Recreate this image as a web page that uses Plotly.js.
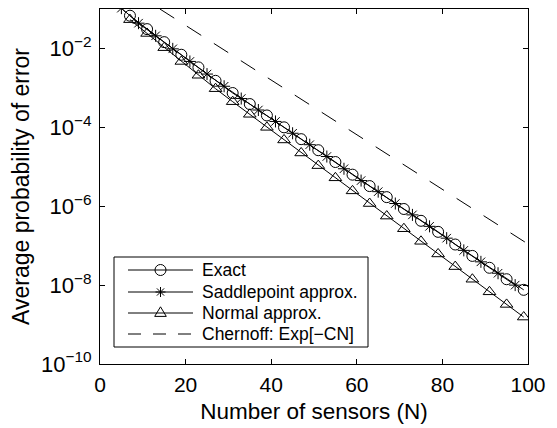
<!DOCTYPE html>
<html>
<head>
<meta charset="utf-8">
<script src="https://cdn.plot.ly/plotly-3.0.1.min.js"></script>
<style>html,body{margin:0;padding:0;background:#fff;}#chart{width:557px;height:428px;}</style>
</head>
<body>
<div id="chart"></div>
<script>
// Exact (circles)
var exactN = [7, 11, 15, 19, 23, 27, 31, 35, 39, 43, 47, 51, 55, 59, 63, 67, 71, 75, 79, 83, 87, 91, 95, 99];
var exactP = [0.0676, 0.0309, 0.01445, 0.00692, 0.00331, 0.00151, 7.41e-4, 3.89e-4, 2.00e-4, 1.00e-4, 5.01e-5, 2.63e-5,
              1.32e-5, 6.31e-6, 3.24e-6, 1.70e-6, 8.51e-7, 4.27e-7, 2.24e-7, 1.07e-7, 5.50e-8, 2.75e-8, 1.41e-8, 7.59e-9];
// Saddlepoint approx. (asterisks)
var saddleN = [5, 9, 13, 17, 21, 25, 29, 33, 37, 41, 45, 49, 53, 57, 61, 65, 69, 73, 77, 81, 85, 89, 93, 97];
var saddleP = [0.105, 0.0437, 0.0209, 0.00977, 0.00468, 0.00224, 1.10e-3, 5.37e-4, 2.75e-4, 1.41e-4, 7.08e-5, 3.63e-5,
               1.82e-5, 8.91e-6, 4.47e-6, 2.34e-6, 1.17e-6, 6.03e-7, 3.09e-7, 1.55e-7, 7.59e-8, 3.89e-8, 2.00e-8, 1.00e-8];
// Normal approx. (triangles)
var normalN = [7, 11, 15, 19, 23, 27, 31, 35, 39, 43, 47, 51, 55, 59, 63, 67, 71, 75, 79, 83, 87, 91, 95, 99];
var normalP = [0.0537, 0.0240, 0.01047, 0.00468, 0.00209, 9.55e-4, 4.47e-4, 2.14e-4, 1.00e-4, 4.79e-5, 2.24e-5, 1.07e-5,
               5.25e-6, 2.45e-6, 1.17e-6, 5.62e-7, 2.69e-7, 1.29e-7, 6.17e-8, 2.95e-8, 1.41e-8, 6.76e-9, 3.24e-9, 1.55e-9];
// Chernoff bound (dashed)
var chernoffN = [14, 100];
var chernoffP = [1.0e-1, 1.1e-7];

var seriesNames = ['Exact', 'Saddlepoint approx.', 'Normal approx.', 'Chernoff: Exp[\u2212CN]'];
var xTicks = [0, 20, 40, 60, 80, 100];
var yTicks = [1e-10, 1e-8, 1e-6, 1e-4, 1e-2];
var yTickText = ['10<sup>\u221210</sup>', '10<sup>\u22128</sup>', '10<sup>\u22126</sup>', '10<sup>\u22124</sup>', '10<sup>\u22122</sup>'];

var FONT = '"Liberation Sans", Arial, Helvetica, sans-serif';
var lineStyle = {color: '#000', width: 1};
var markerLine = {width: 1, color: '#000'};

var traces = [
  {x: exactN, y: exactP, name: seriesNames[0], mode: 'lines+markers', line: lineStyle,
   marker: {symbol: 'circle-open', size: 11, color: '#000', line: markerLine}},
  {x: saddleN, y: saddleP, name: seriesNames[1], mode: 'lines+markers', line: lineStyle,
   marker: {symbol: 'asterisk-open', size: 10, color: '#000', line: markerLine}},
  {x: normalN, y: normalP, name: seriesNames[2], mode: 'lines+markers', line: lineStyle,
   marker: {symbol: 'triangle-up-open', size: 11, color: '#000', line: markerLine}},
  {x: chernoffN, y: chernoffP, name: seriesNames[3], mode: 'lines',
   line: {color: '#000', width: 1, dash: '17px,15px'}}
];

// ---- hand-built legend (MATLAB style box) ----
var W = 557, H = 428, ML = 100, MR = 29, MT = 9, MB = 64;
var PW = W - ML - MR, PH = H - MT - MB;
function px2x(p) { return (p - ML) / PW; }
function py2y(p) { return (H - MB - p) / PH; }

var legBox = {left: 114, right: 368, top: 257, bottom: 347};
var legRows = [270, 292, 313, 334];
var legLineX = [128, 193], legMarkX = 160.5, legTextX = 200;

var shapes = [{
  type: 'rect', xref: 'paper', yref: 'paper', layer: 'above',
  x0: px2x(legBox.left), x1: px2x(legBox.right), y0: py2y(legBox.bottom), y1: py2y(legBox.top),
  line: {color: '#000', width: 1}, fillcolor: '#fff'
}];
var annotations = [];
var markerPaths = [
  null,
  'M0,-5V5M-5,0H5M-3.6,-3.6L3.6,3.6M-3.6,3.6L3.6,-3.6',
  'M-5.8,-3.4L5.8,-3.4L0,6.2Z',
  null
];
legRows.forEach(function (ry, i) {
  shapes.push({
    type: 'line', xref: 'paper', yref: 'paper', layer: 'above',
    x0: px2x(legLineX[0]), x1: px2x(legLineX[1]), y0: py2y(ry), y1: py2y(ry),
    line: {color: '#000', width: 1, dash: i === 3 ? '13px,12px' : 'solid'}
  });
  if (i === 0) {
    shapes.push({
      type: 'circle', xref: 'paper', yref: 'paper', layer: 'above',
      xsizemode: 'pixel', ysizemode: 'pixel', xanchor: px2x(legMarkX), yanchor: py2y(ry),
      x0: -5.5, x1: 5.5, y0: -5.5, y1: 5.5, line: {color: '#000', width: 1}, fillcolor: 'rgba(0,0,0,0)'
    });
  } else if (markerPaths[i]) {
    shapes.push({
      type: 'path', xref: 'paper', yref: 'paper', layer: 'above',
      xsizemode: 'pixel', ysizemode: 'pixel', xanchor: px2x(legMarkX), yanchor: py2y(ry),
      path: markerPaths[i], line: {color: '#000', width: 1}, fillcolor: 'rgba(0,0,0,0)'
    });
  }
  annotations.push({
    xref: 'paper', yref: 'paper', x: px2x(legTextX), y: py2y(ry), xanchor: 'left', yanchor: 'middle',
    showarrow: false, text: seriesNames[i], font: {family: FONT, size: 17.5, color: '#000'}
  });
});

var axisCommon = {
  showline: true, linecolor: '#000', linewidth: 1, mirror: 'ticks',
  ticks: 'inside', ticklen: 5, tickwidth: 1, tickcolor: '#000',
  showgrid: false, zeroline: false,
  tickfont: {family: FONT, size: 21, color: '#000'}
};

var layout = {
  width: W, height: H,
  margin: {l: ML, r: MR, t: MT, b: MB, pad: 0},
  paper_bgcolor: '#fff', plot_bgcolor: '#fff',
  font: {family: FONT, color: '#000'},
  showlegend: false,
  xaxis: Object.assign({}, axisCommon, {
    range: [0, 100], tickmode: 'array', tickvals: xTicks, ticktext: xTicks.map(String),
    ticklabelstandoff: 2,
    title: {text: 'Number of sensors (N)', font: {family: FONT, size: 22.5, color: '#000'}, standoff: 8}
  }),
  yaxis: Object.assign({}, axisCommon, {
    type: 'log', range: [-10, -1], tickmode: 'array', tickvals: yTicks, ticktext: yTickText,
    tickfont: {family: FONT, size: 22, color: '#000'}, ticklabelstandoff: 3,
    title: {text: 'Average probability of error', font: {family: FONT, size: 23, color: '#000'}, standoff: 4}
  }),
  shapes: shapes,
  annotations: annotations
};

Plotly.newPlot('chart', traces, layout, {displayModeBar: false, staticPlot: true});
</script>
</body>
</html>
